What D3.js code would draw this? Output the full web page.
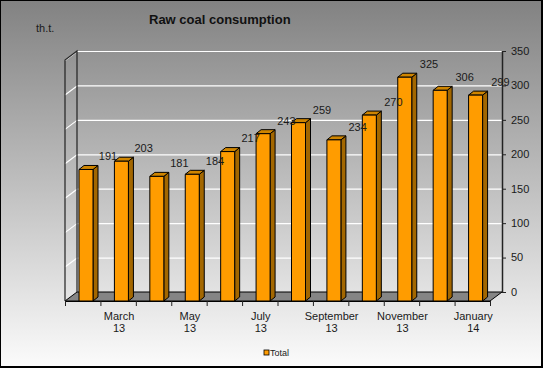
<!DOCTYPE html>
<html>
<head>
<meta charset="utf-8">
<script src="https://cdn.jsdelivr.net/npm/d3@7"></script>
<style>
  body { margin: 0; background: #fff; }
  svg { display: block; font-family: 'Liberation Sans', Arial, sans-serif; }
</style>
</head>
<body>
<div id="chart-area"></div>
<script>
// data
const months = ['February', 'March', 'April', 'May', 'June', 'July', 'August',
  'September', 'October', 'November', 'December', 'January'];
const years = ['13', '13', '13', '13', '13', '13', '13', '13', '13', '13', '13', '14'];
const totals = [191, 203, 181, 184, 217, 243, 259, 234, 270, 325, 306, 299];
const yTicks = [0, 50, 100, 150, 200, 250, 300, 350];
const seriesName = 'Total';

let width = 543;
let height = 368;

// 3d offsets: front plane is shifted left/down from the back wall
let depthX = -12, depthY = 9;
let barDepthX = 5, barDepthY = -4;
let barOffset = 14, barWidth = 14;

let svg = d3
  .select('#chart-area')
  .append('svg')
  .attr('id', 'chart')
  .attr('width', width)
  .attr('height', height);

let defs = svg.append('defs');
let grad = defs.append('linearGradient').attr('id', 'bg').attr('x1', 0).attr('y1', 0).attr('x2', 0).attr('y2', 1);
grad.append('stop').attr('offset', '0%').attr('stop-color', '#828282');
grad.append('stop').attr('offset', '100%').attr('stop-color', '#fbfbfb');

//black frame, 1px left/top and 2px right/bottom
svg.append('rect').attr('width', width).attr('height', height).attr('fill', '#000');
svg.append('rect').attr('x', 1).attr('y', 1).attr('width', width - 3).attr('height', height - 3).attr('fill', 'url(#bg)');

let x = d3.scaleBand().domain(d3.range(months.length)).range([65, 490]);
let y = d3.scaleLinear().domain([0, 350]).range([292, 51]);

let backLeft = x.range()[0] - depthX;
let backRight = x.range()[1] - depthX;

//floor
let floorPts = [
  [x.range()[0], y(0) + depthY],
  [x.range()[1], y(0) + depthY],
  [backRight, y(0)],
  [backLeft, y(0)],
];
svg.append('polygon')
  .attr('points', floorPts.map((p) => p.join(',')).join(' '))
  .attr('fill', '#858585')
  .attr('stroke', '#000')
  .attr('stroke-width', 1);

//gridlines on back wall and side wall
let grid = svg.append('g');
yTicks.filter((t) => t > 0).forEach((t) => {
  grid.append('line')
    .attr('x1', backLeft).attr('x2', backRight)
    .attr('y1', y(t) + 0.5).attr('y2', y(t) + 0.5)
    .attr('stroke', '#fff').attr('stroke-width', 1.2);
  grid.append('line')
    .attr('x1', backLeft).attr('x2', backLeft + depthX)
    .attr('y1', y(t) + 0.5).attr('y2', y(t) + depthY + 0.5)
    .attr('stroke', '#fff').attr('stroke-width', 1.2);
});

//side wall edges
let walls = svg.append('g').attr('stroke', '#222').attr('stroke-width', 1.2).attr('fill', 'none');
walls.append('polyline').attr('points', [
  [x.range()[0], y(0) + depthY],
  [x.range()[0], y(350) + depthY],
  [backLeft, y(350)],
  [backLeft, y(0)],
].map((p) => p.join(',')).join(' '));

//right value axis
let axis = svg.append('g');
axis.append('line')
  .attr('x1', backRight + 0.5).attr('x2', backRight + 0.5)
  .attr('y1', y(0)).attr('y2', y(350))
  .attr('stroke', '#222').attr('stroke-width', 1.5);
axis.selectAll('.tick')
  .data(yTicks)
  .enter()
  .append('line')
  .attr('x1', backRight).attr('x2', backRight + 4)
  .attr('y1', (d) => y(d) + 0.5).attr('y2', (d) => y(d) + 0.5)
  .attr('stroke', '#222');
axis.selectAll('text')
  .data(yTicks)
  .enter()
  .append('text')
  .attr('x', backRight + 9)
  .attr('y', (d) => y(d))
  .attr('dy', '0.35em')
  .style('font-size', '11px')
  .style('fill', '#1a1a1a')
  .text((d) => d);

//category axis
let cat = svg.append('g');
cat.append('line')
  .attr('x1', x.range()[0]).attr('x2', x.range()[1])
  .attr('y1', y(0) + depthY + 0.5).attr('y2', y(0) + depthY + 0.5)
  .attr('stroke', '#000');
cat.selectAll('.tick')
  .data(d3.range(months.length + 1))
  .enter()
  .append('line')
  .attr('x1', (i) => x.range()[0] + i * x.step() + 0.5)
  .attr('x2', (i) => x.range()[0] + i * x.step() + 0.5)
  .attr('y1', y(0) + depthY).attr('y2', y(0) + depthY + 5)
  .attr('stroke', '#222');
let catLabel = cat.selectAll('text')
  .data(d3.range(months.length).filter((i) => i % 2 == 1))
  .enter()
  .append('text')
  .attr('x', (i) => x(i) + x.bandwidth() / 2)
  .attr('y', y(0) + depthY + 19)
  .style('font-size', '11px')
  .style('fill', '#1a1a1a')
  .attr('text-anchor', 'middle');
catLabel.append('tspan').attr('x', (i) => x(i) + x.bandwidth() / 2 + 1).text((i) => months[i]);
catLabel.append('tspan').attr('x', (i) => x(i) + x.bandwidth() / 2 + 1).attr('dy', '1.1em').text((i) => years[i]);

//bars
let bars = svg.selectAll('.bar')
  .data(totals)
  .enter()
  .append('g')
  .attr('class', 'bar')
  .attr('stroke', '#000')
  .attr('stroke-width', 1)
  .attr('stroke-linejoin', 'round');

function barGeom(d, i) {
  let x0 = x(i) + barOffset;
  let x1 = x0 + barWidth;
  let top = y(d) + depthY;
  let bottom = y(0) + depthY;
  return { x0, x1, top, bottom };
}

bars.append('polygon')
  .attr('fill', '#a36700')
  .attr('points', (d, i) => {
    let g = barGeom(d, i);
    return [[g.x1, g.top], [g.x1 + barDepthX, g.top + barDepthY], [g.x1 + barDepthX, g.bottom + barDepthY], [g.x1, g.bottom]]
      .map((p) => p.join(',')).join(' ');
  });
bars.append('polygon')
  .attr('fill', '#cf8500')
  .attr('points', (d, i) => {
    let g = barGeom(d, i);
    return [[g.x0, g.top], [g.x0 + barDepthX, g.top + barDepthY], [g.x1 + barDepthX, g.top + barDepthY], [g.x1, g.top]]
      .map((p) => p.join(',')).join(' ');
  });
bars.append('rect')
  .attr('fill', '#ff9c00')
  .attr('x', (d, i) => barGeom(d, i).x0)
  .attr('y', (d, i) => barGeom(d, i).top)
  .attr('width', barWidth)
  .attr('height', (d, i) => barGeom(d, i).bottom - barGeom(d, i).top);

//value labels, up and right of each bar
svg.selectAll('.value')
  .data(totals)
  .enter()
  .append('text')
  .attr('class', 'value')
  .attr('x', (d, i) => barGeom(d, i).x0 + barWidth / 2 + 22 + i * 0.25)
  .attr('y', (d, i) => barGeom(d, i).top - 13)
  .attr('dy', '0.35em')
  .attr('text-anchor', 'middle')
  .style('font-size', '11px')
  .style('fill', '#1a1a1a')
  .text((d) => d);

//titles
svg.append('text')
  .attr('x', 149).attr('y', 24)
  .style('font-size', '13px')
  .style('font-weight', 'bold')
  .style('fill', '#111')
  .text('Raw coal consumption');
svg.append('text')
  .attr('x', 36).attr('y', 32)
  .style('font-size', '11px')
  .style('fill', '#1a1a1a')
  .text('th.t.');

//legend
let legend = svg.append('g').attr('transform', 'translate(264, 350)');
legend.append('rect').attr('width', 5).attr('height', 5).attr('fill', '#ff9c00').attr('stroke', '#000').attr('stroke-width', 0.8);
legend.append('text').attr('x', 6).attr('y', 3).attr('dy', '0.35em').style('font-size', '9px').style('fill', '#1a1a1a').text(seriesName);
</script>
</body>
</html>
